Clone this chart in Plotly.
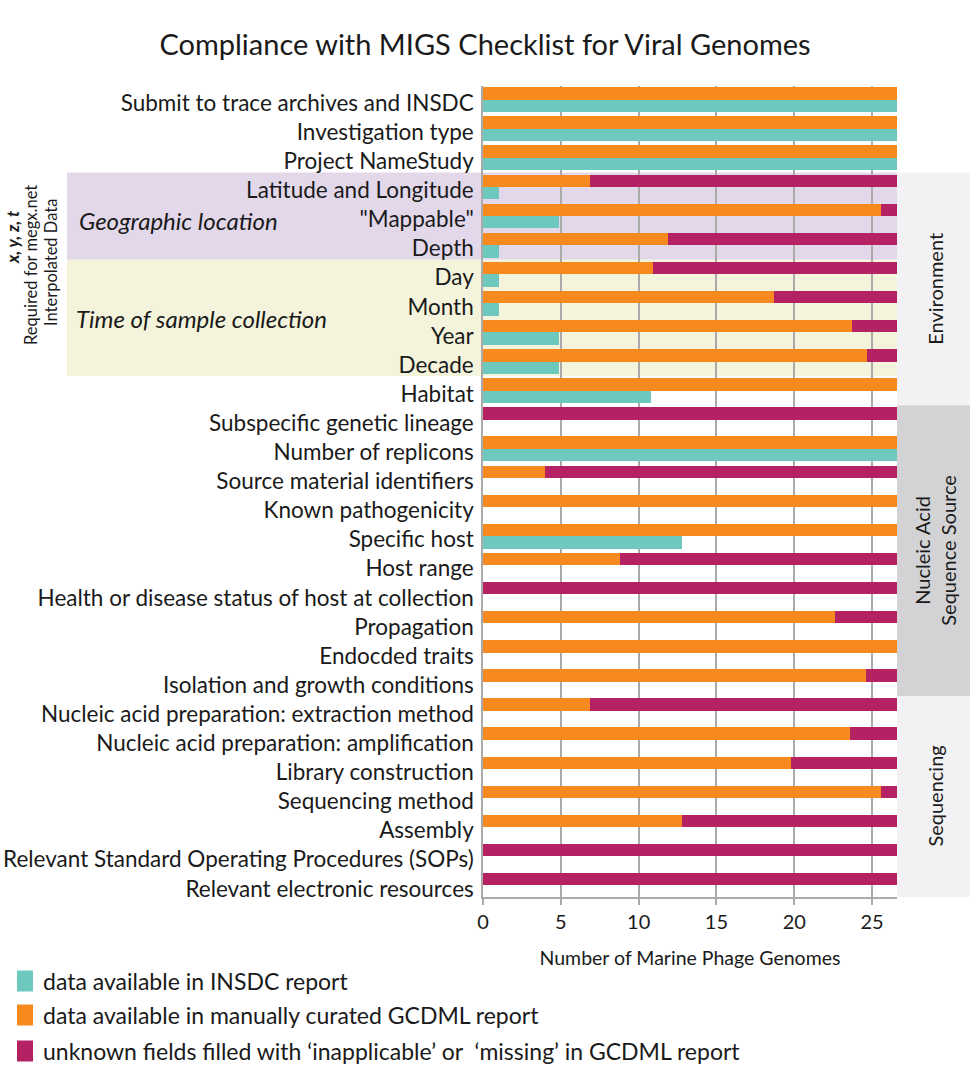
import plotly.graph_objects as go

# ---------------- data ----------------
categories = [
    "Submit to trace archives and INSDC",
    "Investigation type",
    "Project NameStudy",
    "Latitude and Longitude",
    "\"Mappable\"",
    "Depth",
    "Day",
    "Month",
    "Year",
    "Decade",
    "Habitat",
    "Subspecific genetic lineage",
    "Number of replicons",
    "Source material identifiers",
    "Known pathogenicity",
    "Specific host",
    "Host range",
    "Health or disease status of host at collection",
    "Propagation",
    "Endocded traits",
    "Isolation and growth conditions",
    "Nucleic acid preparation: extraction method",
    "Nucleic acid preparation: amplification",
    "Library construction",
    "Sequencing method",
    "Assembly",
    "Relevant Standard Operating Procedures (SOPs)",
    "Relevant electronic resources",
]
insdc = [26.6, 26.6, 26.6, 1.0, 4.9, 1.0, 1.0, 1.0, 4.9, 4.9, 10.8, 0, 26.6, 0,
         0, 12.8, 0, 0, 0, 0, 0, 0, 0, 0, 0, 0, 0, 0]
gcdml = [26.6, 26.6, 26.6, 6.9, 25.6, 11.9, 10.9, 18.7, 23.7, 24.7, 26.6, 0, 26.6, 4.0,
         26.6, 26.6, 8.8, 0, 22.6, 26.6, 24.6, 6.9, 23.6, 19.8, 25.6, 12.8, 0, 0]
unknown = [0, 0, 0, 19.7, 1.0, 14.7, 15.7, 7.9, 2.9, 1.9, 0, 26.6, 0, 22.6,
           0, 0, 17.8, 26.6, 4.0, 0, 2.0, 19.7, 3.0, 6.8, 1.0, 13.8, 26.6, 26.6]
x_ticks = [0, 5, 10, 15, 20, 25]

# groups: (label, first row, last row)
side_groups = [("Environment", 3, 10), ("Nucleic Acid<br>Sequence Source", 11, 20), ("Sequencing", 21, 27)]
inner_groups = [("Geographic location", 3, 5), ("Time of sample collection", 6, 9)]

series_names = [
    "data available in INSDC report",
    "data available in manually curated GCDML report",
    "unknown fields filled with \u2018inapplicable\u2019 or  \u2018missing\u2019 in GCDML report",
]

# ---------------- style ----------------
TEAL = "#6dc8be"
ORANGE = "#f68a1f"
MAGENTA = "#b52263"
PURPLE_BG = "#e2d8ea"
YELLOW_BG = "#f4f4dc"
LIGHT_GRAY = "#f2f2f4"
DARK_GRAY = "#d3d3d5"
GRID = "#aaaaaa"
FONT = "Lato, Open Sans, sans-serif"
TXT = "#1a1a1a"

W, H = 970, 1065
L, R, T, B = 483, 73, 86, 168
PW, PH = W - L - R, H - T - B


def xp(px):
    return (px - L) / PW


def yp(py):
    return (H - B - py) / PH


rows = list(range(len(categories)))
BAR_W = 0.425
TOP_OFF = -0.54
LOW_OFF = TOP_OFF + BAR_W
XMAX = 26.6
YMIN, YMAX = -0.584, 27.285

fig = go.Figure()
fig.add_trace(go.Bar(
    y=rows, x=gcdml, base=[0] * len(rows), orientation="h", name=series_names[1],
    marker=dict(color=ORANGE, line=dict(width=0)), width=BAR_W, offset=TOP_OFF,
))
fig.add_trace(go.Bar(
    y=rows, x=unknown, base=gcdml, orientation="h", name=series_names[2],
    marker=dict(color=MAGENTA, line=dict(width=0)), width=BAR_W, offset=TOP_OFF,
))
fig.add_trace(go.Bar(
    y=rows, x=insdc, base=[0] * len(rows), orientation="h", name=series_names[0],
    marker=dict(color=TEAL, line=dict(width=0)), width=BAR_W, offset=LOW_OFF,
))

shapes = []
annotations = []

# background bands for the inner groups (behind labels and bars)
for (label, r0, r1), col in zip(inner_groups, [PURPLE_BG, YELLOW_BG]):
    shapes.append(dict(type="rect", xref="paper", yref="y", x0=xp(67), x1=1.0,
                       y0=r0 - 0.615, y1=r1 + 0.385, fillcolor=col, line=dict(width=0),
                       layer="below"))
annotations.append(dict(xref="paper", yref="y", x=xp(77), y=4.05, xanchor="left",
                        yanchor="middle", showarrow=False,
                        text="<i>" + inner_groups[0][0] + "</i>",
                        font=dict(family=FONT, size=24, color=TXT)))
annotations.append(dict(xref="paper", yref="y", x=xp(74), y=7.4, xanchor="left",
                        yanchor="middle", showarrow=False,
                        text="<i>" + inner_groups[1][0] + "</i>",
                        font=dict(family=FONT, size=24, color=TXT)))

# side bands on the right
for (label, r0, r1), col in zip(side_groups, [LIGHT_GRAY, DARK_GRAY, LIGHT_GRAY]):
    shapes.append(dict(type="rect", xref="paper", yref="y", x0=1.0, x1=xp(W + 2),
                       y0=r0 - 0.615, y1=r1 + 0.385, fillcolor=col, line=dict(width=0),
                       layer="below"))
    annotations.append(dict(xref="paper", yref="y", x=xp(935),
                            y=(r0 - 0.615 + min(r1 + 0.385, YMAX)) / 2,
                            xanchor="center", yanchor="middle", textangle=-90, showarrow=False,
                            text=label, font=dict(family=FONT, size=20, color=TXT)))

# left rotated notes
annotations.append(dict(xref="paper", yref="paper", x=xp(12), y=yp(237), textangle=-90,
                        showarrow=False, xanchor="center", yanchor="middle",
                        text="<b><i>x, y, z, t</i></b>",
                        font=dict(family=FONT, size=17, color=TXT)))
annotations.append(dict(xref="paper", yref="paper", x=xp(31), y=yp(265), textangle=-90,
                        showarrow=False, xanchor="center", yanchor="middle",
                        text="Required for megx.net",
                        font=dict(family=FONT, size=16.5, color=TXT)))
annotations.append(dict(xref="paper", yref="paper", x=xp(51), y=yp(263), textangle=-90,
                        showarrow=False, xanchor="center", yanchor="middle",
                        text="Interpolated Data",
                        font=dict(family=FONT, size=16.5, color=TXT)))

# custom legend
leg_colors = [TEAL, ORANGE, MAGENTA]
leg_y = [981, 1015, 1051]
for name, col, cy in zip(series_names, leg_colors, leg_y):
    shapes.append(dict(type="rect", xref="paper", yref="paper", x0=xp(17), x1=xp(33),
                       y0=yp(cy + 10.5), y1=yp(cy - 10.5), fillcolor=col, line=dict(width=0)))
    annotations.append(dict(xref="paper", yref="paper", x=xp(41), y=yp(cy), xanchor="left",
                            yanchor="middle", showarrow=False, text=name,
                            font=dict(family=FONT, size=23, color=TXT)))

fig.update_layout(
    width=W, height=H,
    margin=dict(l=L, r=R, t=T, b=B, pad=0, autoexpand=False),
    paper_bgcolor="white", plot_bgcolor="rgba(0,0,0,0)",
    barmode="overlay", bargap=0,
    showlegend=False,
    title=dict(text="Compliance with MIGS Checklist for Viral Genomes",
               x=0.5, xref="container", xanchor="center",
               y=1 - 45 / H, yref="container", yanchor="middle",
               font=dict(family=FONT, size=29, color=TXT)),
    shapes=shapes, annotations=annotations,
    font=dict(family=FONT, color=TXT),
)
fig.update_xaxes(
    range=[0, XMAX], tickvals=x_ticks, ticktext=[str(v) for v in x_ticks],
    showgrid=True, gridcolor=GRID, gridwidth=1.5, zeroline=False,
    showline=True, linecolor=GRID, linewidth=1.5, automargin=False,
    ticks="outside", ticklen=6, tickcolor=GRID, tickwidth=1.5,
    tickfont=dict(family=FONT, size=20, color=TXT),
    title=dict(text="Number of Marine Phage Genomes", standoff=20,
               font=dict(family=FONT, size=19.5, color=TXT)),
)
fig.update_yaxes(
    range=[YMAX, YMIN], tickvals=rows, ticktext=categories,
    showgrid=False, zeroline=False, showline=True, linecolor=GRID, linewidth=1.5,
    automargin=False,
    ticks="outside", ticklen=0, ticklabelstandoff=3,
    tickfont=dict(family=FONT, size=22.5, color=TXT),
)

fig.write_html("out.html", config={"displayModeBar": False},
               post_script="document.body.style.margin='0';")
